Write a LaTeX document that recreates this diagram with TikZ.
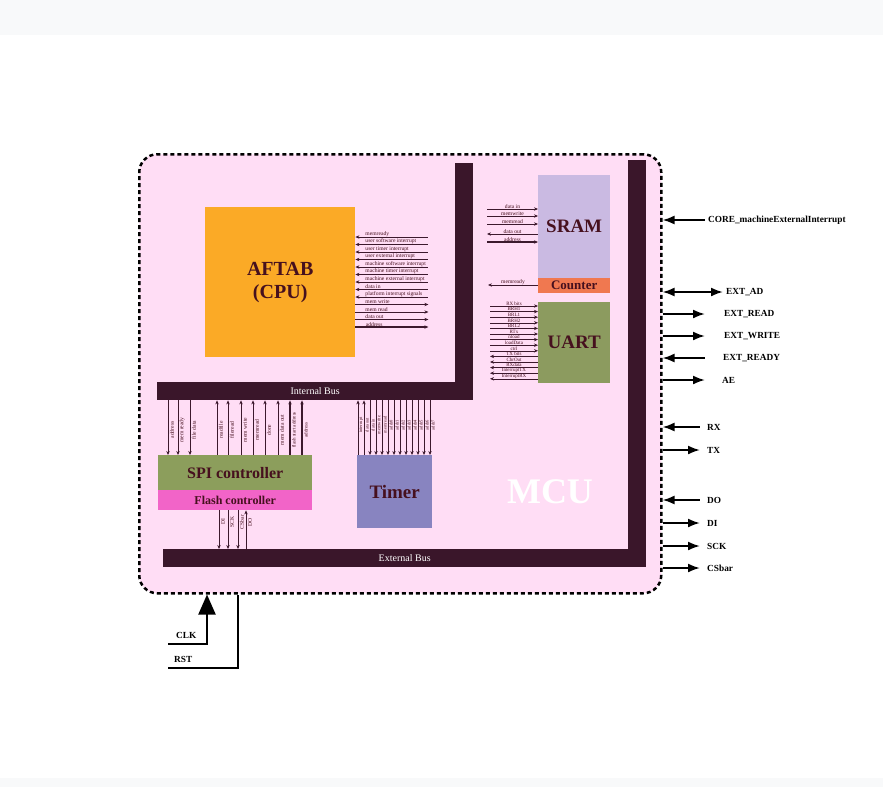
\documentclass[tikz,border=0pt]{standalone}
\usepackage{fontspec}
\setmainfont{Liberation Serif}
\usetikzlibrary{arrows.meta}
\definecolor{bgc}{RGB}{248,249,250}
\definecolor{mcupink}{RGB}{255,221,245}
\definecolor{busc}{RGB}{58,22,42}
\definecolor{cpuc}{RGB}{251,170,38}
\definecolor{sramc}{RGB}{202,186,226}
\definecolor{cntc}{RGB}{240,120,80}
\definecolor{uartc}{RGB}{140,155,95}
\definecolor{spic}{RGB}{140,158,92}
\definecolor{flashc}{RGB}{242,100,200}
\definecolor{timerc}{RGB}{136,132,192}
\definecolor{txtc}{RGB}{70,16,30}
\definecolor{sigc}{RGB}{60,25,45}
\tikzset{
  >={Stealth[length=4pt,width=3.4pt]},
  blk/.style={inner sep=0pt, anchor=north west, font=\bfseries, text=txtc},
  bus/.style={fill=busc, inner sep=0pt, anchor=north west, text=white, font=\fontsize{10}{10}\selectfont},
  sig/.style={draw=sigc, line width=0.6pt},
  wsig/.style={draw=sigc, line width=1.2pt},
  tiny/.style={font=\fontsize{5.6}{5.6}\selectfont, text=txtc, inner sep=0.3pt},
  extin/.style={line width=2pt, {Latex[length=12pt,width=9pt]}-},
  extout/.style={line width=2pt, -{Latex[length=12pt,width=9pt]}},
  extio/.style={line width=2pt, {Latex[length=12pt,width=9pt]}-{Latex[length=12pt,width=9pt]}},
  pin/.style={font=\fontsize{9.3}{9.3}\selectfont\bfseries, inner sep=0pt, anchor=west},
}
\begin{document}
\begin{tikzpicture}[x=1pt,y=-1pt]
\useasboundingbox (0,0) rectangle (883,787);
\fill[bgc] (0,0) rectangle (883,35);
\fill[bgc] (0,778) rectangle (883,787);

% chip outline
\node[draw, line width=2.5pt, dash pattern=on 4pt off 3pt, rounded corners=18pt, fill=mcupink,
      minimum width=522pt, minimum height=439pt, anchor=north west, inner sep=0pt] (mcu) at (138,153) {};
\node[text=white, font=\fontsize{36}{36}\selectfont\bfseries] (mcul) at (550,492) {MCU};

% buses
\node[bus, minimum width=18pt, minimum height=237pt] (ibusv) at (455,163) {};
\node[bus, minimum width=316pt, minimum height=18pt] (ibus) at (157,382) {Internal Bus};
\node[bus, minimum width=18pt, minimum height=407pt] (ebusv) at (628,160) {};
\node[bus, minimum width=483pt, minimum height=18pt] (ebus) at (163,549) {External Bus};

% blocks
\node[blk, fill=cpuc, minimum width=150pt, minimum height=150pt, align=center,
      font=\fontsize{20}{23}\selectfont\bfseries] (cpu) at (205,207) {AFTAB\\(CPU)};
\node[blk, fill=sramc, minimum width=72pt, minimum height=103pt, font=\fontsize{19}{19}\selectfont\bfseries] (sram) at (538,175) {SRAM};
\node[blk, fill=cntc, minimum width=72pt, minimum height=15pt, font=\fontsize{13}{13}\selectfont\bfseries] (cnt) at (538,278) {Counter};
\node[blk, fill=uartc, minimum width=72pt, minimum height=81pt, font=\fontsize{19}{19}\selectfont\bfseries] (uart) at (538,302) {UART};
\node[blk, fill=spic, minimum width=154pt, minimum height=35pt, font=\fontsize{16}{16}\selectfont\bfseries] (spi) at (158,455) {SPI controller};
\node[blk, fill=flashc, minimum width=154pt, minimum height=20pt, font=\fontsize{12}{12}\selectfont\bfseries] (flash) at (158,490) {Flash controller};
\node[blk, fill=timerc, minimum width=75pt, minimum height=73pt, font=\fontsize{19}{19}\selectfont\bfseries] (timer) at (357,455) {Timer};

% cpu signals
\foreach \lbl [count=\i from 0] in {memready, user software interrupt, user timer interrupt, user external interrupt,
    machine software interrupt, machine timer interrupt, machine external interrupt, data in, platform interrupt signals} {
  \pgfmathsetmacro\yy{237+7.5*\i}
  \draw[sig,<-] (cpu.east |- 0,\yy) -- ++(73,0) node[tiny, pos=0.13, above right] {\lbl};
}
\foreach \lbl [count=\i from 9] in {mem write, mem read, data out} {
  \pgfmathsetmacro\yy{237+7.5*\i}
  \draw[sig,->] (cpu.east |- 0,\yy) -- ++(73,0) node[tiny, pos=0.13, above right] {\lbl};
}
\draw[wsig,->] (cpu.east |- 0,327) -- ++(73,0) node[tiny, pos=0.13, above right] {address};

% sram signals
\foreach \yy/\dir/\lbl in {209/->/data in, 216/->/memwrite, 224/->/memread, 234/<-/data out} {
  \draw[sig,\dir] (sram.west |- 0,\yy) ++(-51,0) -- (sram.west |- 0,\yy) node[tiny, midway, above] {\lbl};
}
\draw[wsig,->] (sram.west |- 0,242) ++(-51,0) -- (sram.west |- 0,242) node[tiny, midway, above] {address};
\draw[sig,<-] (cnt.west |- 0,285) ++(-50,0) -- (cnt.west |- 0,285) node[tiny, midway, above] {memready};

% uart signals
\foreach \lbl [count=\i from 0] in {RX bits, BRH1, BRL1, BRH2, BRL2, RTx, nload, loadData, ctrl} {
  \pgfmathsetmacro\yy{306+5.6*\i}
  \draw[sig,->] (uart.west |- 0,\yy) ++(-48,0) -- (uart.west |- 0,\yy) node[tiny, midway, above, font=\fontsize{5}{5}\selectfont] {\lbl};
}
\foreach \lbl [count=\i from 9] in {TX bits, ChrOut, RXdata, InterruptTX, InterruptRX} {
  \pgfmathsetmacro\yy{306+5.6*\i}
  \draw[sig,<-] (uart.west |- 0,\yy) ++(-48,0) -- (uart.west |- 0,\yy) node[tiny, midway, above, font=\fontsize{5}{5}\selectfont] {\lbl};
}

% spi signals
\foreach \xx/\lbl in {168/address, 178/mem ready, 190/file data} {
  \draw[sig,->] (ibus.south -| \xx,0) -- (spi.north -| \xx,0);
  \node[tiny, rotate=90] at (\xx+4,430) {\lbl};
}
\foreach \xx/\lbl in {217/readfile, 228/fileread, 241/mem write, 253/memread, 265/done, 278/mem data out} {
  \draw[sig,<-] (ibus.south -| \xx,0) -- (spi.north -| \xx,0);
  \node[tiny, rotate=90] at (\xx+4,430) {\lbl};
}
\foreach \xx/\lbl in {290/flash start address, 302/address} {
  \draw[wsig,<-] (ibus.south -| \xx,0) -- (spi.north -| \xx,0);
  \node[tiny, rotate=90, font=\fontsize{5}{5}\selectfont] at (\xx+4,430) {\lbl};
}

% flash pins
\foreach \xx/\lbl in {219/DI, 228/SCK, 238/CSbar} {
  \draw[sig,->] (flash.south -| \xx,0) -- (ebus.north -| \xx,0);
  \node[tiny, rotate=90] at (\xx+4,522) {\lbl};
}
\draw[sig,<-] (flash.south -| 246,0) -- (ebus.north -| 246,0);
\node[tiny, rotate=90] at (250,522) {DO};

% timer signals
\foreach \lbl [count=\i from 0] in {interrupt, data out} {
  \pgfmathsetmacro\xx{358+6*\i}
  \draw[sig,<-] (ibus.south -| \xx,0) -- (timer.north -| \xx,0);
  \node[tiny, rotate=90, font=\fontsize{4.5}{4.5}\selectfont] at (\xx+3,425) {\lbl};
}
\foreach \lbl [count=\i from 2] in {data in, memwrite, memread, addr0, addr1, addr2, addr3, addr4, addr5, addr6, addr7} {
  \pgfmathsetmacro\xx{358+6*\i}
  \draw[sig,->] (ibus.south -| \xx,0) -- (timer.north -| \xx,0);
  \node[tiny, rotate=90, font=\fontsize{4.5}{4.5}\selectfont] at (\xx+3,425) {\lbl};
}

% external pins
\foreach \yy/\st/\xe/\xl/\lbl in {220/extin/705/708/CORE\_machineExternalInterrupt, 292/extio/723/726/EXT\_AD,
    314/extout/705/724/EXT\_READ, 336/extout/705/724/EXT\_WRITE, 358/extin/705/723/EXT\_READY, 380/extout/705/722/AE,
    427/extin/700/707/RX, 450/extout/700/707/TX, 500/extin/700/707/DO, 523/extout/700/707/DI,
    546/extout/700/707/SCK, 568/extout/700/707/CSbar} {
  \draw[\st] (mcu.east |- 0,\yy) -- (\xe,\yy);
  \node[pin] at (\xl,\yy) {\lbl};
}

% clock and reset
\coordinate (clk) at (168,644);
\coordinate (rst) at (168,668);
\draw[line width=2pt, -{Triangle[length=20pt,width=17pt]}] (clk) -- (207,644) -- (mcu.south -| 207,0);
\draw[line width=2pt] (rst) -- (238,668) -- (mcu.south -| 238,0);
\node[pin] at (176,635) {CLK};
\node[pin] at (174,659) {RST};
\end{tikzpicture}
\end{document}
